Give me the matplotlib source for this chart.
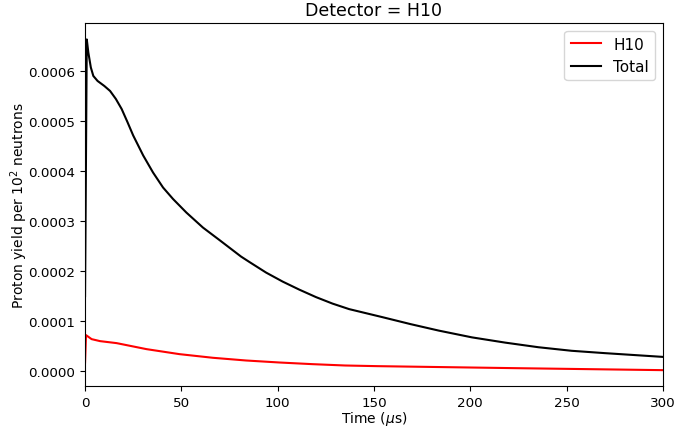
import matplotlib
matplotlib.use("Agg")
import matplotlib.pyplot as plt

# Time points (microseconds) and yields
total_time = [0, 0.9, 1.7, 3, 4.3, 6.5, 10, 13, 16, 19, 22, 25, 30.2, 35.3, 40.5,
              45.7, 52.6, 61.2, 69.8, 81, 85.4, 94, 102.6, 111.2, 119.9, 128.5,
              137.1, 145.7, 154.3, 169, 183.7, 200.9, 218.2, 235.4, 252.6, 269.9,
              300]
total_yield = [0.00015, 0.000663, 0.000637, 0.000607, 0.00059, 0.00058, 0.00057,
               0.00056, 0.000544, 0.000524, 0.000498, 0.000471, 0.000431, 0.000397,
               0.000367, 0.000344, 0.000317, 0.000287, 0.000262, 0.000229, 0.000218,
               0.000197, 0.000179, 0.000163, 0.000148, 0.000135, 0.000124, 0.000116,
               0.000108, 0.000094, 0.000081, 0.0000675, 0.000057, 0.0000478,
               0.0000407, 0.000036, 0.0000285]

h10_time = [0, 0.5, 3.4, 7.8, 16.4, 31.9, 49, 66.4, 83.6, 100.9, 118, 135, 151.7,
            223, 300]
h10_yield = [0.0000173, 0.000072, 0.000064, 0.00006, 0.000056, 0.000044, 0.000034,
             0.0000267, 0.0000213, 0.0000173, 0.000014, 0.0000113, 0.00001,
             0.000006, 0.000002]

fig = plt.figure(figsize=(6.75, 4.27), dpi=100)
ax = fig.add_axes([0.126, 0.094, 0.856, 0.85])

ax.plot(h10_time, h10_yield, color="red", linewidth=1.5, label="H10")
ax.plot(total_time, total_yield, color="black", linewidth=1.5, label="Total")

ax.set_xlim(0, 300)
ax.set_ylim(-0.0000294, 0.000696)
ax.set_yticks([0, 0.0001, 0.0002, 0.0003, 0.0004, 0.0005, 0.0006])
ax.set_yticklabels(["0.0000", "0.0001", "0.0002", "0.0003", "0.0004", "0.0005", "0.0006"])
ax.tick_params(labelsize=9.7)

ax.set_title("Detector = H10", fontsize=12.5)
ax.set_xlabel(r"Time ($\mu$s)", fontsize=10, labelpad=0)
ax.set_ylabel(r"Proton yield per $10^2$ neutrons", fontsize=10, labelpad=-1)
ax.legend(loc="upper right", fontsize=11)

fig.savefig("out.png", dpi=100)
